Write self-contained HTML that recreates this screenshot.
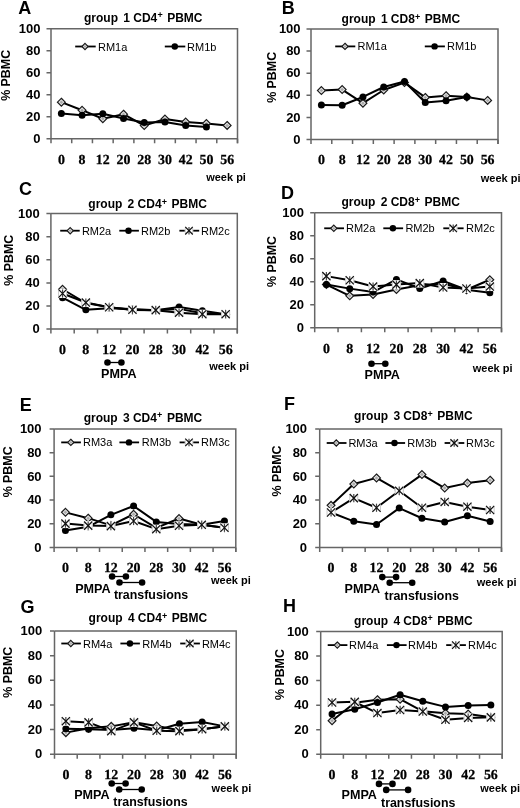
<!DOCTYPE html>
<html><head><meta charset="utf-8"><title>Figure</title>
<style>
html,body{margin:0;padding:0;background:#fff;width:520px;height:808px;overflow:hidden;}
svg{display:block;filter:blur(0.3px);}
</style></head>
<body>
<svg width="520" height="808" viewBox="0 0 520 808">
<rect width="520" height="808" fill="#fff"/>
<text x="18.2" y="14" font-size="18" font-weight="bold" font-family='"Liberation Sans", sans-serif'>A</text>
<text y="21.5" font-size="12" font-weight="bold" font-family='"Liberation Sans", sans-serif'><tspan x="84">group</tspan><tspan x="123.3">1</tspan><tspan x="133.25">CD4</tspan><tspan x="157.4" font-size="9" dy="-3.4">+</tspan><tspan x="167.2" dy="3.4">PBMC</tspan></text>
<path d="M51 28.8H237.5V143.3" fill="none" stroke="#666666" stroke-width="1.5"/>
<path d="M51 28.8V138.8H237.5M46.5 138.8H51M46.5 116.8H51M46.5 94.8H51M46.5 72.8H51M46.5 50.8H51M46.5 28.8H51M51 138.8V143.3M71.72 138.8V143.3M92.44 138.8V143.3M113.17 138.8V143.3M133.89 138.8V143.3M154.61 138.8V143.3M175.33 138.8V143.3M196.06 138.8V143.3M216.78 138.8V143.3M237.5 138.8V143.3" fill="none" stroke="#666666" stroke-width="1.5"/>
<text x="40.4" y="142.95" font-size="13" font-weight="bold" text-anchor="end" font-family='"Liberation Sans", sans-serif'>0</text>
<text x="40.4" y="120.95" font-size="13" font-weight="bold" text-anchor="end" font-family='"Liberation Sans", sans-serif'>20</text>
<text x="40.4" y="98.95" font-size="13" font-weight="bold" text-anchor="end" font-family='"Liberation Sans", sans-serif'>40</text>
<text x="40.4" y="76.95" font-size="13" font-weight="bold" text-anchor="end" font-family='"Liberation Sans", sans-serif'>60</text>
<text x="40.4" y="54.95" font-size="13" font-weight="bold" text-anchor="end" font-family='"Liberation Sans", sans-serif'>80</text>
<text x="40.4" y="32.95" font-size="13" font-weight="bold" text-anchor="end" font-family='"Liberation Sans", sans-serif'>100</text>
<text x="61.36" y="164" font-size="13.9" font-weight="bold" text-anchor="middle" text-rendering="geometricPrecision" stroke="#000" stroke-width="0.25" font-family='"Liberation Serif", serif'>0</text>
<text x="82.08" y="164" font-size="13.9" font-weight="bold" text-anchor="middle" text-rendering="geometricPrecision" stroke="#000" stroke-width="0.25" font-family='"Liberation Serif", serif'>8</text>
<text x="102.81" y="164" font-size="13.9" font-weight="bold" text-anchor="middle" text-rendering="geometricPrecision" stroke="#000" stroke-width="0.25" font-family='"Liberation Serif", serif'>12</text>
<text x="123.53" y="164" font-size="13.9" font-weight="bold" text-anchor="middle" text-rendering="geometricPrecision" stroke="#000" stroke-width="0.25" font-family='"Liberation Serif", serif'>20</text>
<text x="144.25" y="164" font-size="13.9" font-weight="bold" text-anchor="middle" text-rendering="geometricPrecision" stroke="#000" stroke-width="0.25" font-family='"Liberation Serif", serif'>28</text>
<text x="164.97" y="164" font-size="13.9" font-weight="bold" text-anchor="middle" text-rendering="geometricPrecision" stroke="#000" stroke-width="0.25" font-family='"Liberation Serif", serif'>30</text>
<text x="185.69" y="164" font-size="13.9" font-weight="bold" text-anchor="middle" text-rendering="geometricPrecision" stroke="#000" stroke-width="0.25" font-family='"Liberation Serif", serif'>42</text>
<text x="206.42" y="164" font-size="13.9" font-weight="bold" text-anchor="middle" text-rendering="geometricPrecision" stroke="#000" stroke-width="0.25" font-family='"Liberation Serif", serif'>50</text>
<text x="227.14" y="164" font-size="13.9" font-weight="bold" text-anchor="middle" text-rendering="geometricPrecision" stroke="#000" stroke-width="0.25" font-family='"Liberation Serif", serif'>56</text>
<text transform="translate(10.4 75.4) rotate(-90)" font-size="12.4" font-weight="bold" text-anchor="middle" font-family='"Liberation Sans", sans-serif'>% PBMC</text>
<text x="206.2" y="180.6" font-size="11" font-weight="bold" font-family='"Liberation Sans", sans-serif'>week pi</text>
<path d="M75.2 46.5H95.7" stroke="#000" stroke-width="1.8"/>
<path d="M85 43.38L88.12 46.5L85 49.62L81.88 46.5Z" fill="#e6e6e6" stroke="#1a1a1a" stroke-width="1.2"/><path d="M85 45.1L86.4 46.5L85 47.9L83.6 46.5Z" fill="#aaa"/>
<text x="98" y="50.5" font-size="11" font-family='"Liberation Sans", sans-serif'>RM1a</text>
<path d="M164.8 46.5H185.3" stroke="#000" stroke-width="1.8"/>
<circle cx="174.8" cy="46.5" r="3.22" fill="#000"/>
<text x="187.1" y="50.5" font-size="11" font-family='"Liberation Sans", sans-serif'>RM1b</text>
<path d="M61.36 102.17L82.08 110.2L102.81 118.78L123.53 114.16L144.25 125.6L164.97 119L185.69 121.97L206.42 123.51L227.14 125.38" fill="none" stroke="#000" stroke-width="2" stroke-linejoin="round"/>
<path d="M61.36 98.27L65.26 102.17L61.36 106.07L57.46 102.17Z" fill="#e6e6e6" stroke="#1a1a1a" stroke-width="1.2"/><path d="M61.36 100.42L63.12 102.17L61.36 103.93L59.61 102.17Z" fill="#aaa"/>
<path d="M82.08 106.3L85.98 110.2L82.08 114.1L78.18 110.2Z" fill="#e6e6e6" stroke="#1a1a1a" stroke-width="1.2"/><path d="M82.08 108.45L83.84 110.2L82.08 111.95L80.33 110.2Z" fill="#aaa"/>
<path d="M102.81 114.88L106.71 118.78L102.81 122.68L98.91 118.78Z" fill="#e6e6e6" stroke="#1a1a1a" stroke-width="1.2"/><path d="M102.81 117.03L104.56 118.78L102.81 120.53L101.05 118.78Z" fill="#aaa"/>
<path d="M123.53 110.26L127.43 114.16L123.53 118.06L119.63 114.16Z" fill="#e6e6e6" stroke="#1a1a1a" stroke-width="1.2"/><path d="M123.53 112.41L125.28 114.16L123.53 115.92L121.77 114.16Z" fill="#aaa"/>
<path d="M144.25 121.7L148.15 125.6L144.25 129.5L140.35 125.6Z" fill="#e6e6e6" stroke="#1a1a1a" stroke-width="1.2"/><path d="M144.25 123.85L146 125.6L144.25 127.36L142.5 125.6Z" fill="#aaa"/>
<path d="M164.97 115.1L168.87 119L164.97 122.9L161.07 119Z" fill="#e6e6e6" stroke="#1a1a1a" stroke-width="1.2"/><path d="M164.97 117.25L166.73 119L164.97 120.76L163.22 119Z" fill="#aaa"/>
<path d="M185.69 118.07L189.59 121.97L185.69 125.87L181.79 121.97Z" fill="#e6e6e6" stroke="#1a1a1a" stroke-width="1.2"/><path d="M185.69 120.22L187.45 121.97L185.69 123.73L183.94 121.97Z" fill="#aaa"/>
<path d="M206.42 119.61L210.32 123.51L206.42 127.41L202.52 123.51Z" fill="#e6e6e6" stroke="#1a1a1a" stroke-width="1.2"/><path d="M206.42 121.76L208.17 123.51L206.42 125.27L204.66 123.51Z" fill="#aaa"/>
<path d="M227.14 121.48L231.04 125.38L227.14 129.28L223.24 125.38Z" fill="#e6e6e6" stroke="#1a1a1a" stroke-width="1.2"/><path d="M227.14 123.63L228.89 125.38L227.14 127.14L225.38 125.38Z" fill="#aaa"/>
<path d="M61.36 113.61L82.08 115.15L102.81 113.72L123.53 118.45L144.25 122.52L164.97 121.97L185.69 125.6L206.42 126.92" fill="none" stroke="#000" stroke-width="2" stroke-linejoin="round"/>
<circle cx="61.36" cy="113.61" r="3.5" fill="#000"/>
<circle cx="82.08" cy="115.15" r="3.5" fill="#000"/>
<circle cx="102.81" cy="113.72" r="3.5" fill="#000"/>
<circle cx="123.53" cy="118.45" r="3.5" fill="#000"/>
<circle cx="144.25" cy="122.52" r="3.5" fill="#000"/>
<circle cx="164.97" cy="121.97" r="3.5" fill="#000"/>
<circle cx="185.69" cy="125.6" r="3.5" fill="#000"/>
<circle cx="206.42" cy="126.92" r="3.5" fill="#000"/>
<text x="281.8" y="13.8" font-size="18" font-weight="bold" font-family='"Liberation Sans", sans-serif'>B</text>
<text y="23.1" font-size="12" font-weight="bold" font-family='"Liberation Sans", sans-serif'><tspan x="341.6">group</tspan><tspan x="380.9">1</tspan><tspan x="390.85">CD8</tspan><tspan x="415" font-size="9" dy="-3.4">+</tspan><tspan x="424.8" dy="3.4">PBMC</tspan></text>
<path d="M311 29H498V144" fill="none" stroke="#666666" stroke-width="1.5"/>
<path d="M311 29V139.5H498M306.5 139.5H311M306.5 117.4H311M306.5 95.3H311M306.5 73.2H311M306.5 51.1H311M306.5 29H311M311 139.5V144M331.78 139.5V144M352.56 139.5V144M373.33 139.5V144M394.11 139.5V144M414.89 139.5V144M435.67 139.5V144M456.44 139.5V144M477.22 139.5V144M498 139.5V144" fill="none" stroke="#666666" stroke-width="1.5"/>
<text x="300.6" y="143.65" font-size="13" font-weight="bold" text-anchor="end" font-family='"Liberation Sans", sans-serif'>0</text>
<text x="300.6" y="121.55" font-size="13" font-weight="bold" text-anchor="end" font-family='"Liberation Sans", sans-serif'>20</text>
<text x="300.6" y="99.45" font-size="13" font-weight="bold" text-anchor="end" font-family='"Liberation Sans", sans-serif'>40</text>
<text x="300.6" y="77.35" font-size="13" font-weight="bold" text-anchor="end" font-family='"Liberation Sans", sans-serif'>60</text>
<text x="300.6" y="55.25" font-size="13" font-weight="bold" text-anchor="end" font-family='"Liberation Sans", sans-serif'>80</text>
<text x="300.6" y="33.15" font-size="13" font-weight="bold" text-anchor="end" font-family='"Liberation Sans", sans-serif'>100</text>
<text x="321.39" y="164.3" font-size="13.9" font-weight="bold" text-anchor="middle" text-rendering="geometricPrecision" stroke="#000" stroke-width="0.25" font-family='"Liberation Serif", serif'>0</text>
<text x="342.17" y="164.3" font-size="13.9" font-weight="bold" text-anchor="middle" text-rendering="geometricPrecision" stroke="#000" stroke-width="0.25" font-family='"Liberation Serif", serif'>8</text>
<text x="362.94" y="164.3" font-size="13.9" font-weight="bold" text-anchor="middle" text-rendering="geometricPrecision" stroke="#000" stroke-width="0.25" font-family='"Liberation Serif", serif'>12</text>
<text x="383.72" y="164.3" font-size="13.9" font-weight="bold" text-anchor="middle" text-rendering="geometricPrecision" stroke="#000" stroke-width="0.25" font-family='"Liberation Serif", serif'>20</text>
<text x="404.5" y="164.3" font-size="13.9" font-weight="bold" text-anchor="middle" text-rendering="geometricPrecision" stroke="#000" stroke-width="0.25" font-family='"Liberation Serif", serif'>28</text>
<text x="425.28" y="164.3" font-size="13.9" font-weight="bold" text-anchor="middle" text-rendering="geometricPrecision" stroke="#000" stroke-width="0.25" font-family='"Liberation Serif", serif'>30</text>
<text x="446.06" y="164.3" font-size="13.9" font-weight="bold" text-anchor="middle" text-rendering="geometricPrecision" stroke="#000" stroke-width="0.25" font-family='"Liberation Serif", serif'>42</text>
<text x="466.83" y="164.3" font-size="13.9" font-weight="bold" text-anchor="middle" text-rendering="geometricPrecision" stroke="#000" stroke-width="0.25" font-family='"Liberation Serif", serif'>50</text>
<text x="487.61" y="164.3" font-size="13.9" font-weight="bold" text-anchor="middle" text-rendering="geometricPrecision" stroke="#000" stroke-width="0.25" font-family='"Liberation Serif", serif'>56</text>
<text transform="translate(275.8 77.4) rotate(-90)" font-size="12.4" font-weight="bold" text-anchor="middle" font-family='"Liberation Sans", sans-serif'>% PBMC</text>
<text x="480.8" y="181.5" font-size="11" font-weight="bold" font-family='"Liberation Sans", sans-serif'>week pi</text>
<path d="M335.2 46.4H355.3" stroke="#000" stroke-width="1.8"/>
<path d="M345 43.28L348.12 46.4L345 49.52L341.88 46.4Z" fill="#e6e6e6" stroke="#1a1a1a" stroke-width="1.2"/><path d="M345 45L346.4 46.4L345 47.8L343.6 46.4Z" fill="#aaa"/>
<text x="357.5" y="50.4" font-size="11" font-family='"Liberation Sans", sans-serif'>RM1a</text>
<path d="M424.8 46.4H444.9" stroke="#000" stroke-width="1.8"/>
<circle cx="434.6" cy="46.4" r="3.22" fill="#000"/>
<text x="447.1" y="50.4" font-size="11" font-family='"Liberation Sans", sans-serif'>RM1b</text>
<path d="M321.39 90.55L342.17 89.55L362.94 103.15L383.72 90L404.5 82.59L425.28 97.4L446.06 95.63L466.83 96.96L487.61 100.38" fill="none" stroke="#000" stroke-width="2" stroke-linejoin="round"/>
<path d="M321.39 86.65L325.29 90.55L321.39 94.45L317.49 90.55Z" fill="#e6e6e6" stroke="#1a1a1a" stroke-width="1.2"/><path d="M321.39 88.79L323.14 90.55L321.39 92.3L319.63 90.55Z" fill="#aaa"/>
<path d="M342.17 85.65L346.07 89.55L342.17 93.45L338.27 89.55Z" fill="#e6e6e6" stroke="#1a1a1a" stroke-width="1.2"/><path d="M342.17 87.8L343.92 89.55L342.17 91.31L340.41 89.55Z" fill="#aaa"/>
<path d="M362.94 99.25L366.84 103.15L362.94 107.05L359.04 103.15Z" fill="#e6e6e6" stroke="#1a1a1a" stroke-width="1.2"/><path d="M362.94 101.39L364.7 103.15L362.94 104.9L361.19 103.15Z" fill="#aaa"/>
<path d="M383.72 86.1L387.62 90L383.72 93.9L379.82 90Z" fill="#e6e6e6" stroke="#1a1a1a" stroke-width="1.2"/><path d="M383.72 88.24L385.48 90L383.72 91.75L381.97 90Z" fill="#aaa"/>
<path d="M404.5 78.69L408.4 82.59L404.5 86.49L400.6 82.59Z" fill="#e6e6e6" stroke="#1a1a1a" stroke-width="1.2"/><path d="M404.5 80.84L406.25 82.59L404.5 84.35L402.75 82.59Z" fill="#aaa"/>
<path d="M425.28 93.5L429.18 97.4L425.28 101.3L421.38 97.4Z" fill="#e6e6e6" stroke="#1a1a1a" stroke-width="1.2"/><path d="M425.28 95.64L427.03 97.4L425.28 99.15L423.52 97.4Z" fill="#aaa"/>
<path d="M446.06 91.73L449.96 95.63L446.06 99.53L442.16 95.63Z" fill="#e6e6e6" stroke="#1a1a1a" stroke-width="1.2"/><path d="M446.06 93.88L447.81 95.63L446.06 97.39L444.3 95.63Z" fill="#aaa"/>
<path d="M466.83 93.06L470.73 96.96L466.83 100.86L462.93 96.96Z" fill="#e6e6e6" stroke="#1a1a1a" stroke-width="1.2"/><path d="M466.83 95.2L468.59 96.96L466.83 98.71L465.08 96.96Z" fill="#aaa"/>
<path d="M487.61 96.48L491.51 100.38L487.61 104.28L483.71 100.38Z" fill="#e6e6e6" stroke="#1a1a1a" stroke-width="1.2"/><path d="M487.61 98.63L489.37 100.38L487.61 102.14L485.86 100.38Z" fill="#aaa"/>
<path d="M321.39 105.02L342.17 105.25L362.94 96.96L383.72 87.01L404.5 81.49L425.28 102.59L446.06 100.83L466.83 96.96" fill="none" stroke="#000" stroke-width="2" stroke-linejoin="round"/>
<circle cx="321.39" cy="105.02" r="3.5" fill="#000"/>
<circle cx="342.17" cy="105.25" r="3.5" fill="#000"/>
<circle cx="362.94" cy="96.96" r="3.5" fill="#000"/>
<circle cx="383.72" cy="87.01" r="3.5" fill="#000"/>
<circle cx="404.5" cy="81.49" r="3.5" fill="#000"/>
<circle cx="425.28" cy="102.59" r="3.5" fill="#000"/>
<circle cx="446.06" cy="100.83" r="3.5" fill="#000"/>
<circle cx="466.83" cy="96.96" r="3.5" fill="#000"/>
<text x="19" y="194.8" font-size="18" font-weight="bold" font-family='"Liberation Sans", sans-serif'>C</text>
<text y="208.1" font-size="12" font-weight="bold" font-family='"Liberation Sans", sans-serif'><tspan x="88.3">group</tspan><tspan x="127.6">2</tspan><tspan x="137.55">CD4</tspan><tspan x="161.7" font-size="9" dy="-3.4">+</tspan><tspan x="171.5" dy="3.4">PBMC</tspan></text>
<path d="M50.9 213.6H237.3V333.6" fill="none" stroke="#666666" stroke-width="1.5"/>
<path d="M50.9 213.6V329.1H237.3M46.4 329.1H50.9M46.4 306H50.9M46.4 282.9H50.9M46.4 259.8H50.9M46.4 236.7H50.9M46.4 213.6H50.9M50.9 329.1V333.6M74.2 329.1V333.6M97.5 329.1V333.6M120.8 329.1V333.6M144.1 329.1V333.6M167.4 329.1V333.6M190.7 329.1V333.6M214 329.1V333.6M237.3 329.1V333.6" fill="none" stroke="#666666" stroke-width="1.5"/>
<text x="39.8" y="333.25" font-size="13" font-weight="bold" text-anchor="end" font-family='"Liberation Sans", sans-serif'>0</text>
<text x="39.8" y="310.15" font-size="13" font-weight="bold" text-anchor="end" font-family='"Liberation Sans", sans-serif'>20</text>
<text x="39.8" y="287.05" font-size="13" font-weight="bold" text-anchor="end" font-family='"Liberation Sans", sans-serif'>40</text>
<text x="39.8" y="263.95" font-size="13" font-weight="bold" text-anchor="end" font-family='"Liberation Sans", sans-serif'>60</text>
<text x="39.8" y="240.85" font-size="13" font-weight="bold" text-anchor="end" font-family='"Liberation Sans", sans-serif'>80</text>
<text x="39.8" y="217.75" font-size="13" font-weight="bold" text-anchor="end" font-family='"Liberation Sans", sans-serif'>100</text>
<text x="62.55" y="353.7" font-size="13.9" font-weight="bold" text-anchor="middle" text-rendering="geometricPrecision" stroke="#000" stroke-width="0.25" font-family='"Liberation Serif", serif'>0</text>
<text x="85.85" y="353.7" font-size="13.9" font-weight="bold" text-anchor="middle" text-rendering="geometricPrecision" stroke="#000" stroke-width="0.25" font-family='"Liberation Serif", serif'>8</text>
<text x="109.15" y="353.7" font-size="13.9" font-weight="bold" text-anchor="middle" text-rendering="geometricPrecision" stroke="#000" stroke-width="0.25" font-family='"Liberation Serif", serif'>12</text>
<text x="132.45" y="353.7" font-size="13.9" font-weight="bold" text-anchor="middle" text-rendering="geometricPrecision" stroke="#000" stroke-width="0.25" font-family='"Liberation Serif", serif'>20</text>
<text x="155.75" y="353.7" font-size="13.9" font-weight="bold" text-anchor="middle" text-rendering="geometricPrecision" stroke="#000" stroke-width="0.25" font-family='"Liberation Serif", serif'>28</text>
<text x="179.05" y="353.7" font-size="13.9" font-weight="bold" text-anchor="middle" text-rendering="geometricPrecision" stroke="#000" stroke-width="0.25" font-family='"Liberation Serif", serif'>30</text>
<text x="202.35" y="353.7" font-size="13.9" font-weight="bold" text-anchor="middle" text-rendering="geometricPrecision" stroke="#000" stroke-width="0.25" font-family='"Liberation Serif", serif'>42</text>
<text x="225.65" y="353.7" font-size="13.9" font-weight="bold" text-anchor="middle" text-rendering="geometricPrecision" stroke="#000" stroke-width="0.25" font-family='"Liberation Serif", serif'>56</text>
<text transform="translate(13 260.2) rotate(-90)" font-size="12.4" font-weight="bold" text-anchor="middle" font-family='"Liberation Sans", sans-serif'>% PBMC</text>
<text x="209.3" y="370" font-size="11" font-weight="bold" font-family='"Liberation Sans", sans-serif'>week pi</text>
<path d="M60.2 230.7H79.7" stroke="#000" stroke-width="1.8"/>
<path d="M70.2 227.58L73.32 230.7L70.2 233.82L67.08 230.7Z" fill="#e6e6e6" stroke="#1a1a1a" stroke-width="1.2"/><path d="M70.2 229.3L71.6 230.7L70.2 232.1L68.8 230.7Z" fill="#aaa"/>
<text x="81.9" y="234.7" font-size="11" font-family='"Liberation Sans", sans-serif'>RM2a</text>
<path d="M119.3 230.7H138.9" stroke="#000" stroke-width="1.8"/>
<circle cx="128.5" cy="230.7" r="3.22" fill="#000"/>
<text x="141" y="234.7" font-size="11" font-family='"Liberation Sans", sans-serif'>RM2b</text>
<path d="M179.4 230.7H199.2" stroke="#000" stroke-width="1.8"/>
<rect x="184.83" y="226.53" width="8.34" height="8.34" fill="#fff"/><path d="M185.33 227.93V233.47M192.67 227.93V233.47" stroke="#c8c8c8" stroke-width="1" fill="none"/><path d="M189 226.93V234.47" stroke="#444" stroke-width="1.2" fill="none"/><path d="M185.23 226.93L192.77 234.47M192.77 226.93L185.23 234.47" stroke="#111" stroke-width="1.25" fill="none"/>
<text x="201" y="234.7" font-size="11" font-family='"Liberation Sans", sans-serif'>RM2c</text>
<path d="M62.55 289.25L85.85 303L109.15 307.16L132.45 310.04L155.75 310.16L179.05 308.89L202.35 313.16L225.65 314.2" fill="none" stroke="#000" stroke-width="2" stroke-linejoin="round"/>
<path d="M62.55 285.35L66.45 289.25L62.55 293.15L58.65 289.25Z" fill="#e6e6e6" stroke="#1a1a1a" stroke-width="1.2"/><path d="M62.55 287.5L64.3 289.25L62.55 291.01L60.79 289.25Z" fill="#aaa"/>
<path d="M85.85 299.1L89.75 303L85.85 306.9L81.95 303Z" fill="#e6e6e6" stroke="#1a1a1a" stroke-width="1.2"/><path d="M85.85 301.24L87.6 303L85.85 304.75L84.09 303Z" fill="#aaa"/>
<path d="M109.15 303.26L113.05 307.16L109.15 311.06L105.25 307.16Z" fill="#e6e6e6" stroke="#1a1a1a" stroke-width="1.2"/><path d="M109.15 305.4L110.91 307.16L109.15 308.91L107.4 307.16Z" fill="#aaa"/>
<path d="M132.45 306.14L136.35 310.04L132.45 313.94L128.55 310.04Z" fill="#e6e6e6" stroke="#1a1a1a" stroke-width="1.2"/><path d="M132.45 308.29L134.2 310.04L132.45 311.8L130.69 310.04Z" fill="#aaa"/>
<path d="M155.75 306.26L159.65 310.16L155.75 314.06L151.85 310.16Z" fill="#e6e6e6" stroke="#1a1a1a" stroke-width="1.2"/><path d="M155.75 308.4L157.5 310.16L155.75 311.91L154 310.16Z" fill="#aaa"/>
<path d="M179.05 304.99L182.95 308.89L179.05 312.79L175.15 308.89Z" fill="#e6e6e6" stroke="#1a1a1a" stroke-width="1.2"/><path d="M179.05 307.13L180.81 308.89L179.05 310.64L177.3 308.89Z" fill="#aaa"/>
<path d="M202.35 309.26L206.25 313.16L202.35 317.06L198.45 313.16Z" fill="#e6e6e6" stroke="#1a1a1a" stroke-width="1.2"/><path d="M202.35 311.41L204.11 313.16L202.35 314.92L200.6 313.16Z" fill="#aaa"/>
<path d="M225.65 310.3L229.55 314.2L225.65 318.1L221.75 314.2Z" fill="#e6e6e6" stroke="#1a1a1a" stroke-width="1.2"/><path d="M225.65 312.45L227.41 314.2L225.65 315.96L223.9 314.2Z" fill="#aaa"/>
<path d="M62.55 297.68L85.85 309.81L109.15 308.31L132.45 309L155.75 310.16L179.05 306.92L202.35 310.85L225.65 314.2" fill="none" stroke="#000" stroke-width="2" stroke-linejoin="round"/>
<circle cx="62.55" cy="297.68" r="3.5" fill="#000"/>
<circle cx="85.85" cy="309.81" r="3.5" fill="#000"/>
<circle cx="109.15" cy="308.31" r="3.5" fill="#000"/>
<circle cx="132.45" cy="309" r="3.5" fill="#000"/>
<circle cx="155.75" cy="310.16" r="3.5" fill="#000"/>
<circle cx="179.05" cy="306.92" r="3.5" fill="#000"/>
<circle cx="202.35" cy="310.85" r="3.5" fill="#000"/>
<circle cx="225.65" cy="314.2" r="3.5" fill="#000"/>
<path d="M62.55 293.53L85.85 302.54L109.15 307.27L132.45 309.81L155.75 310.16L179.05 312.7L202.35 314.2L225.65 314.2" fill="none" stroke="#000" stroke-width="2" stroke-linejoin="round"/>
<rect x="58.05" y="289.03" width="9" height="9" fill="#fff"/><path d="M58.55 290.43V296.63M66.55 290.43V296.63" stroke="#c8c8c8" stroke-width="1" fill="none"/><path d="M62.55 289.43V297.63" stroke="#444" stroke-width="1.2" fill="none"/><path d="M58.45 289.43L66.65 297.63M66.65 289.43L58.45 297.63" stroke="#111" stroke-width="1.25" fill="none"/>
<rect x="81.35" y="298.04" width="9" height="9" fill="#fff"/><path d="M81.85 299.44V305.64M89.85 299.44V305.64" stroke="#c8c8c8" stroke-width="1" fill="none"/><path d="M85.85 298.44V306.64" stroke="#444" stroke-width="1.2" fill="none"/><path d="M81.75 298.44L89.95 306.64M89.95 298.44L81.75 306.64" stroke="#111" stroke-width="1.25" fill="none"/>
<rect x="104.65" y="302.77" width="9" height="9" fill="#fff"/><path d="M105.15 304.17V310.37M113.15 304.17V310.37" stroke="#c8c8c8" stroke-width="1" fill="none"/><path d="M109.15 303.17V311.37" stroke="#444" stroke-width="1.2" fill="none"/><path d="M105.05 303.17L113.25 311.37M113.25 303.17L105.05 311.37" stroke="#111" stroke-width="1.25" fill="none"/>
<rect x="127.95" y="305.31" width="9" height="9" fill="#fff"/><path d="M128.45 306.71V312.91M136.45 306.71V312.91" stroke="#c8c8c8" stroke-width="1" fill="none"/><path d="M132.45 305.71V313.91" stroke="#444" stroke-width="1.2" fill="none"/><path d="M128.35 305.71L136.55 313.91M136.55 305.71L128.35 313.91" stroke="#111" stroke-width="1.25" fill="none"/>
<rect x="151.25" y="305.66" width="9" height="9" fill="#fff"/><path d="M151.75 307.06V313.26M159.75 307.06V313.26" stroke="#c8c8c8" stroke-width="1" fill="none"/><path d="M155.75 306.06V314.26" stroke="#444" stroke-width="1.2" fill="none"/><path d="M151.65 306.06L159.85 314.26M159.85 306.06L151.65 314.26" stroke="#111" stroke-width="1.25" fill="none"/>
<rect x="174.55" y="308.2" width="9" height="9" fill="#fff"/><path d="M175.05 309.6V315.8M183.05 309.6V315.8" stroke="#c8c8c8" stroke-width="1" fill="none"/><path d="M179.05 308.6V316.8" stroke="#444" stroke-width="1.2" fill="none"/><path d="M174.95 308.6L183.15 316.8M183.15 308.6L174.95 316.8" stroke="#111" stroke-width="1.25" fill="none"/>
<rect x="197.85" y="309.7" width="9" height="9" fill="#fff"/><path d="M198.35 311.1V317.3M206.35 311.1V317.3" stroke="#c8c8c8" stroke-width="1" fill="none"/><path d="M202.35 310.1V318.3" stroke="#444" stroke-width="1.2" fill="none"/><path d="M198.25 310.1L206.45 318.3M206.45 310.1L198.25 318.3" stroke="#111" stroke-width="1.25" fill="none"/>
<rect x="221.15" y="309.7" width="9" height="9" fill="#fff"/><path d="M221.65 311.1V317.3M229.65 311.1V317.3" stroke="#c8c8c8" stroke-width="1" fill="none"/><path d="M225.65 310.1V318.3" stroke="#444" stroke-width="1.2" fill="none"/><path d="M221.55 310.1L229.75 318.3M229.75 310.1L221.55 318.3" stroke="#111" stroke-width="1.25" fill="none"/>
<path d="M107.5 362.5H121.4" stroke="#000" stroke-width="1.3"/>
<circle cx="107.5" cy="362.5" r="3.3"/><circle cx="121.4" cy="362.5" r="3.3"/>
<text x="101.1" y="377.9" font-size="12.6" font-weight="bold" font-family='"Liberation Sans", sans-serif'>PMPA</text>
<text x="281.1" y="198.8" font-size="18" font-weight="bold" font-family='"Liberation Sans", sans-serif'>D</text>
<text y="206.2" font-size="12" font-weight="bold" font-family='"Liberation Sans", sans-serif'><tspan x="341.4">group</tspan><tspan x="380.7">2</tspan><tspan x="390.65">CD8</tspan><tspan x="414.8" font-size="9" dy="-3.4">+</tspan><tspan x="424.6" dy="3.4">PBMC</tspan></text>
<path d="M314.7 212.8H501.5V332.2" fill="none" stroke="#666666" stroke-width="1.5"/>
<path d="M314.7 212.8V327.7H501.5M310.2 327.7H314.7M310.2 304.72H314.7M310.2 281.74H314.7M310.2 258.76H314.7M310.2 235.78H314.7M310.2 212.8H314.7M314.7 327.7V332.2M338.05 327.7V332.2M361.4 327.7V332.2M384.75 327.7V332.2M408.1 327.7V332.2M431.45 327.7V332.2M454.8 327.7V332.2M478.15 327.7V332.2M501.5 327.7V332.2" fill="none" stroke="#666666" stroke-width="1.5"/>
<text x="304" y="331.85" font-size="13" font-weight="bold" text-anchor="end" font-family='"Liberation Sans", sans-serif'>0</text>
<text x="304" y="308.87" font-size="13" font-weight="bold" text-anchor="end" font-family='"Liberation Sans", sans-serif'>20</text>
<text x="304" y="285.89" font-size="13" font-weight="bold" text-anchor="end" font-family='"Liberation Sans", sans-serif'>40</text>
<text x="304" y="262.91" font-size="13" font-weight="bold" text-anchor="end" font-family='"Liberation Sans", sans-serif'>60</text>
<text x="304" y="239.93" font-size="13" font-weight="bold" text-anchor="end" font-family='"Liberation Sans", sans-serif'>80</text>
<text x="304" y="216.95" font-size="13" font-weight="bold" text-anchor="end" font-family='"Liberation Sans", sans-serif'>100</text>
<text x="326.38" y="352.5" font-size="13.9" font-weight="bold" text-anchor="middle" text-rendering="geometricPrecision" stroke="#000" stroke-width="0.25" font-family='"Liberation Serif", serif'>0</text>
<text x="349.73" y="352.5" font-size="13.9" font-weight="bold" text-anchor="middle" text-rendering="geometricPrecision" stroke="#000" stroke-width="0.25" font-family='"Liberation Serif", serif'>8</text>
<text x="373.07" y="352.5" font-size="13.9" font-weight="bold" text-anchor="middle" text-rendering="geometricPrecision" stroke="#000" stroke-width="0.25" font-family='"Liberation Serif", serif'>12</text>
<text x="396.43" y="352.5" font-size="13.9" font-weight="bold" text-anchor="middle" text-rendering="geometricPrecision" stroke="#000" stroke-width="0.25" font-family='"Liberation Serif", serif'>20</text>
<text x="419.77" y="352.5" font-size="13.9" font-weight="bold" text-anchor="middle" text-rendering="geometricPrecision" stroke="#000" stroke-width="0.25" font-family='"Liberation Serif", serif'>28</text>
<text x="443.12" y="352.5" font-size="13.9" font-weight="bold" text-anchor="middle" text-rendering="geometricPrecision" stroke="#000" stroke-width="0.25" font-family='"Liberation Serif", serif'>30</text>
<text x="466.48" y="352.5" font-size="13.9" font-weight="bold" text-anchor="middle" text-rendering="geometricPrecision" stroke="#000" stroke-width="0.25" font-family='"Liberation Serif", serif'>42</text>
<text x="489.82" y="352.5" font-size="13.9" font-weight="bold" text-anchor="middle" text-rendering="geometricPrecision" stroke="#000" stroke-width="0.25" font-family='"Liberation Serif", serif'>56</text>
<text transform="translate(276.1 261.5) rotate(-90)" font-size="12.4" font-weight="bold" text-anchor="middle" font-family='"Liberation Sans", sans-serif'>% PBMC</text>
<text x="472.8" y="371.7" font-size="11" font-weight="bold" font-family='"Liberation Sans", sans-serif'>week pi</text>
<path d="M324.2 228.3H344" stroke="#000" stroke-width="1.8"/>
<path d="M333.8 225.18L336.92 228.3L333.8 231.42L330.68 228.3Z" fill="#e6e6e6" stroke="#1a1a1a" stroke-width="1.2"/><path d="M333.8 226.9L335.2 228.3L333.8 229.7L332.4 228.3Z" fill="#aaa"/>
<text x="346" y="232.3" font-size="11" font-family='"Liberation Sans", sans-serif'>RM2a</text>
<path d="M383.3 228.3H403.1" stroke="#000" stroke-width="1.8"/>
<circle cx="392.9" cy="228.3" r="3.22" fill="#000"/>
<text x="405.4" y="232.3" font-size="11" font-family='"Liberation Sans", sans-serif'>RM2b</text>
<path d="M443.3 228.3H463.6" stroke="#000" stroke-width="1.8"/>
<rect x="449.03" y="224.13" width="8.34" height="8.34" fill="#fff"/><path d="M449.53 225.53V231.07M456.87 225.53V231.07" stroke="#c8c8c8" stroke-width="1" fill="none"/><path d="M453.2 224.53V232.07" stroke="#444" stroke-width="1.2" fill="none"/><path d="M449.43 224.53L456.97 232.07M456.97 224.53L449.43 232.07" stroke="#111" stroke-width="1.25" fill="none"/>
<text x="466.1" y="232.3" font-size="11" font-family='"Liberation Sans", sans-serif'>RM2c</text>
<path d="M326.38 284.61L349.73 295.87L373.07 294.49L396.43 289.44L419.77 285.19L443.12 283.46L466.48 289.78L489.82 279.79" fill="none" stroke="#000" stroke-width="2" stroke-linejoin="round"/>
<path d="M326.38 280.71L330.27 284.61L326.38 288.51L322.48 284.61Z" fill="#e6e6e6" stroke="#1a1a1a" stroke-width="1.2"/><path d="M326.38 282.86L328.13 284.61L326.38 286.37L324.62 284.61Z" fill="#aaa"/>
<path d="M349.73 291.97L353.62 295.87L349.73 299.77L345.83 295.87Z" fill="#e6e6e6" stroke="#1a1a1a" stroke-width="1.2"/><path d="M349.73 294.12L351.48 295.87L349.73 297.63L347.97 295.87Z" fill="#aaa"/>
<path d="M373.07 290.59L376.97 294.49L373.07 298.39L369.18 294.49Z" fill="#e6e6e6" stroke="#1a1a1a" stroke-width="1.2"/><path d="M373.07 292.74L374.83 294.49L373.07 296.25L371.32 294.49Z" fill="#aaa"/>
<path d="M396.43 285.54L400.32 289.44L396.43 293.34L392.53 289.44Z" fill="#e6e6e6" stroke="#1a1a1a" stroke-width="1.2"/><path d="M396.43 287.68L398.18 289.44L396.43 291.19L394.67 289.44Z" fill="#aaa"/>
<path d="M419.77 281.29L423.67 285.19L419.77 289.09L415.88 285.19Z" fill="#e6e6e6" stroke="#1a1a1a" stroke-width="1.2"/><path d="M419.77 283.43L421.53 285.19L419.77 286.94L418.02 285.19Z" fill="#aaa"/>
<path d="M443.12 279.56L447.02 283.46L443.12 287.36L439.23 283.46Z" fill="#e6e6e6" stroke="#1a1a1a" stroke-width="1.2"/><path d="M443.12 281.71L444.88 283.46L443.12 285.22L441.37 283.46Z" fill="#aaa"/>
<path d="M466.48 285.88L470.38 289.78L466.48 293.68L462.58 289.78Z" fill="#e6e6e6" stroke="#1a1a1a" stroke-width="1.2"/><path d="M466.48 288.03L468.23 289.78L466.48 291.54L464.72 289.78Z" fill="#aaa"/>
<path d="M489.82 275.89L493.72 279.79L489.82 283.69L485.93 279.79Z" fill="#e6e6e6" stroke="#1a1a1a" stroke-width="1.2"/><path d="M489.82 278.03L491.58 279.79L489.82 281.54L488.07 279.79Z" fill="#aaa"/>
<path d="M326.38 284.61L349.73 288.63L373.07 292.08L396.43 279.44L419.77 288.52L443.12 280.94L466.48 289.78L489.82 292.66" fill="none" stroke="#000" stroke-width="2" stroke-linejoin="round"/>
<circle cx="326.38" cy="284.61" r="3.5" fill="#000"/>
<circle cx="349.73" cy="288.63" r="3.5" fill="#000"/>
<circle cx="373.07" cy="292.08" r="3.5" fill="#000"/>
<circle cx="396.43" cy="279.44" r="3.5" fill="#000"/>
<circle cx="419.77" cy="288.52" r="3.5" fill="#000"/>
<circle cx="443.12" cy="280.94" r="3.5" fill="#000"/>
<circle cx="466.48" cy="289.78" r="3.5" fill="#000"/>
<circle cx="489.82" cy="292.66" r="3.5" fill="#000"/>
<path d="M326.38 276.11L349.73 280.25L373.07 286.57L396.43 284.61L419.77 283.12L443.12 287.49L466.48 288.52L489.82 286.57" fill="none" stroke="#000" stroke-width="2" stroke-linejoin="round"/>
<rect x="321.88" y="271.61" width="9" height="9" fill="#fff"/><path d="M322.38 273.01V279.21M330.38 273.01V279.21" stroke="#c8c8c8" stroke-width="1" fill="none"/><path d="M326.38 272.01V280.21" stroke="#444" stroke-width="1.2" fill="none"/><path d="M322.27 272.01L330.48 280.21M330.48 272.01L322.27 280.21" stroke="#111" stroke-width="1.25" fill="none"/>
<rect x="345.23" y="275.75" width="9" height="9" fill="#fff"/><path d="M345.73 277.15V283.35M353.73 277.15V283.35" stroke="#c8c8c8" stroke-width="1" fill="none"/><path d="M349.73 276.15V284.35" stroke="#444" stroke-width="1.2" fill="none"/><path d="M345.62 276.15L353.83 284.35M353.83 276.15L345.62 284.35" stroke="#111" stroke-width="1.25" fill="none"/>
<rect x="368.57" y="282.07" width="9" height="9" fill="#fff"/><path d="M369.07 283.47V289.67M377.07 283.47V289.67" stroke="#c8c8c8" stroke-width="1" fill="none"/><path d="M373.07 282.47V290.67" stroke="#444" stroke-width="1.2" fill="none"/><path d="M368.97 282.47L377.18 290.67M377.18 282.47L368.97 290.67" stroke="#111" stroke-width="1.25" fill="none"/>
<rect x="391.93" y="280.11" width="9" height="9" fill="#fff"/><path d="M392.43 281.51V287.71M400.43 281.51V287.71" stroke="#c8c8c8" stroke-width="1" fill="none"/><path d="M396.43 280.51V288.71" stroke="#444" stroke-width="1.2" fill="none"/><path d="M392.32 280.51L400.53 288.71M400.53 280.51L392.32 288.71" stroke="#111" stroke-width="1.25" fill="none"/>
<rect x="415.27" y="278.62" width="9" height="9" fill="#fff"/><path d="M415.77 280.02V286.22M423.77 280.02V286.22" stroke="#c8c8c8" stroke-width="1" fill="none"/><path d="M419.77 279.02V287.22" stroke="#444" stroke-width="1.2" fill="none"/><path d="M415.67 279.02L423.88 287.22M423.88 279.02L415.67 287.22" stroke="#111" stroke-width="1.25" fill="none"/>
<rect x="438.62" y="282.99" width="9" height="9" fill="#fff"/><path d="M439.12 284.38V290.59M447.12 284.38V290.59" stroke="#c8c8c8" stroke-width="1" fill="none"/><path d="M443.12 283.38V291.59" stroke="#444" stroke-width="1.2" fill="none"/><path d="M439.02 283.38L447.23 291.59M447.23 283.38L439.02 291.59" stroke="#111" stroke-width="1.25" fill="none"/>
<rect x="461.98" y="284.02" width="9" height="9" fill="#fff"/><path d="M462.48 285.42V291.62M470.48 285.42V291.62" stroke="#c8c8c8" stroke-width="1" fill="none"/><path d="M466.48 284.42V292.62" stroke="#444" stroke-width="1.2" fill="none"/><path d="M462.38 284.42L470.58 292.62M470.58 284.42L462.38 292.62" stroke="#111" stroke-width="1.25" fill="none"/>
<rect x="485.32" y="282.07" width="9" height="9" fill="#fff"/><path d="M485.82 283.47V289.67M493.82 283.47V289.67" stroke="#c8c8c8" stroke-width="1" fill="none"/><path d="M489.82 282.47V290.67" stroke="#444" stroke-width="1.2" fill="none"/><path d="M485.72 282.47L493.93 290.67M493.93 282.47L485.72 290.67" stroke="#111" stroke-width="1.25" fill="none"/>
<path d="M371.5 363.7H385.3" stroke="#000" stroke-width="1.3"/>
<circle cx="371.5" cy="363.7" r="3.3"/><circle cx="385.3" cy="363.7" r="3.3"/>
<text x="364.5" y="379" font-size="12.6" font-weight="bold" font-family='"Liberation Sans", sans-serif'>PMPA</text>
<text x="19.8" y="410.8" font-size="18" font-weight="bold" font-family='"Liberation Sans", sans-serif'>E</text>
<text y="421.5" font-size="12" font-weight="bold" font-family='"Liberation Sans", sans-serif'><tspan x="83.7">group</tspan><tspan x="123">3</tspan><tspan x="132.95">CD4</tspan><tspan x="157.1" font-size="9" dy="-3.4">+</tspan><tspan x="166.9" dy="3.4">PBMC</tspan></text>
<path d="M54.1 429H235.8V551.9" fill="none" stroke="#666666" stroke-width="1.5"/>
<path d="M54.1 429V547.4H235.8M49.6 547.4H54.1M49.6 523.72H54.1M49.6 500.04H54.1M49.6 476.36H54.1M49.6 452.68H54.1M49.6 429H54.1M54.1 547.4V551.9M76.81 547.4V551.9M99.53 547.4V551.9M122.24 547.4V551.9M144.95 547.4V551.9M167.66 547.4V551.9M190.38 547.4V551.9M213.09 547.4V551.9M235.8 547.4V551.9" fill="none" stroke="#666666" stroke-width="1.5"/>
<text x="41.6" y="551.55" font-size="13" font-weight="bold" text-anchor="end" font-family='"Liberation Sans", sans-serif'>0</text>
<text x="41.6" y="527.87" font-size="13" font-weight="bold" text-anchor="end" font-family='"Liberation Sans", sans-serif'>20</text>
<text x="41.6" y="504.19" font-size="13" font-weight="bold" text-anchor="end" font-family='"Liberation Sans", sans-serif'>40</text>
<text x="41.6" y="480.51" font-size="13" font-weight="bold" text-anchor="end" font-family='"Liberation Sans", sans-serif'>60</text>
<text x="41.6" y="456.83" font-size="13" font-weight="bold" text-anchor="end" font-family='"Liberation Sans", sans-serif'>80</text>
<text x="41.6" y="433.15" font-size="13" font-weight="bold" text-anchor="end" font-family='"Liberation Sans", sans-serif'>100</text>
<text x="65.46" y="571.8" font-size="13.9" font-weight="bold" text-anchor="middle" text-rendering="geometricPrecision" stroke="#000" stroke-width="0.25" font-family='"Liberation Serif", serif'>0</text>
<text x="88.17" y="571.8" font-size="13.9" font-weight="bold" text-anchor="middle" text-rendering="geometricPrecision" stroke="#000" stroke-width="0.25" font-family='"Liberation Serif", serif'>8</text>
<text x="110.88" y="571.8" font-size="13.9" font-weight="bold" text-anchor="middle" text-rendering="geometricPrecision" stroke="#000" stroke-width="0.25" font-family='"Liberation Serif", serif'>12</text>
<text x="133.59" y="571.8" font-size="13.9" font-weight="bold" text-anchor="middle" text-rendering="geometricPrecision" stroke="#000" stroke-width="0.25" font-family='"Liberation Serif", serif'>20</text>
<text x="156.31" y="571.8" font-size="13.9" font-weight="bold" text-anchor="middle" text-rendering="geometricPrecision" stroke="#000" stroke-width="0.25" font-family='"Liberation Serif", serif'>28</text>
<text x="179.02" y="571.8" font-size="13.9" font-weight="bold" text-anchor="middle" text-rendering="geometricPrecision" stroke="#000" stroke-width="0.25" font-family='"Liberation Serif", serif'>30</text>
<text x="201.73" y="571.8" font-size="13.9" font-weight="bold" text-anchor="middle" text-rendering="geometricPrecision" stroke="#000" stroke-width="0.25" font-family='"Liberation Serif", serif'>42</text>
<text x="224.44" y="571.8" font-size="13.9" font-weight="bold" text-anchor="middle" text-rendering="geometricPrecision" stroke="#000" stroke-width="0.25" font-family='"Liberation Serif", serif'>56</text>
<text transform="translate(11.8 471.9) rotate(-90)" font-size="12.4" font-weight="bold" text-anchor="middle" font-family='"Liberation Sans", sans-serif'>% PBMC</text>
<text x="211" y="584" font-size="11" font-weight="bold" font-family='"Liberation Sans", sans-serif'>week pi</text>
<path d="M61.2 442.4H80.9" stroke="#000" stroke-width="1.8"/>
<path d="M70.8 439.28L73.92 442.4L70.8 445.52L67.68 442.4Z" fill="#e6e6e6" stroke="#1a1a1a" stroke-width="1.2"/><path d="M70.8 441L72.2 442.4L70.8 443.8L69.4 442.4Z" fill="#aaa"/>
<text x="83" y="446.4" font-size="11" font-family='"Liberation Sans", sans-serif'>RM3a</text>
<path d="M119.4 442.4H139.1" stroke="#000" stroke-width="1.8"/>
<circle cx="129" cy="442.4" r="3.22" fill="#000"/>
<text x="141.8" y="446.4" font-size="11" font-family='"Liberation Sans", sans-serif'>RM3b</text>
<path d="M179.6 442.4H199" stroke="#000" stroke-width="1.8"/>
<rect x="184.83" y="438.23" width="8.34" height="8.34" fill="#fff"/><path d="M185.33 439.63V445.17M192.67 439.63V445.17" stroke="#c8c8c8" stroke-width="1" fill="none"/><path d="M189 438.63V446.17" stroke="#444" stroke-width="1.2" fill="none"/><path d="M185.23 438.63L192.77 446.17M192.77 438.63L185.23 446.17" stroke="#111" stroke-width="1.25" fill="none"/>
<text x="201.1" y="446.4" font-size="11" font-family='"Liberation Sans", sans-serif'>RM3c</text>
<path d="M65.46 512.35L88.17 518.16L110.88 525.38L133.59 514.25L156.31 527.86L179.02 518.51L201.73 524.79L224.44 527.86" fill="none" stroke="#000" stroke-width="2" stroke-linejoin="round"/>
<path d="M65.46 508.45L69.36 512.35L65.46 516.25L61.56 512.35Z" fill="#e6e6e6" stroke="#1a1a1a" stroke-width="1.2"/><path d="M65.46 510.6L67.21 512.35L65.46 514.11L63.7 512.35Z" fill="#aaa"/>
<path d="M88.17 514.26L92.07 518.16L88.17 522.06L84.27 518.16Z" fill="#e6e6e6" stroke="#1a1a1a" stroke-width="1.2"/><path d="M88.17 516.4L89.92 518.16L88.17 519.91L86.41 518.16Z" fill="#aaa"/>
<path d="M110.88 521.48L114.78 525.38L110.88 529.28L106.98 525.38Z" fill="#e6e6e6" stroke="#1a1a1a" stroke-width="1.2"/><path d="M110.88 523.62L112.64 525.38L110.88 527.13L109.13 525.38Z" fill="#aaa"/>
<path d="M133.59 510.35L137.49 514.25L133.59 518.15L129.69 514.25Z" fill="#e6e6e6" stroke="#1a1a1a" stroke-width="1.2"/><path d="M133.59 512.49L135.35 514.25L133.59 516L131.84 514.25Z" fill="#aaa"/>
<path d="M156.31 523.96L160.21 527.86L156.31 531.76L152.41 527.86Z" fill="#e6e6e6" stroke="#1a1a1a" stroke-width="1.2"/><path d="M156.31 526.11L158.06 527.86L156.31 529.62L154.55 527.86Z" fill="#aaa"/>
<path d="M179.02 514.61L182.92 518.51L179.02 522.41L175.12 518.51Z" fill="#e6e6e6" stroke="#1a1a1a" stroke-width="1.2"/><path d="M179.02 516.76L180.77 518.51L179.02 520.27L177.26 518.51Z" fill="#aaa"/>
<path d="M201.73 520.89L205.63 524.79L201.73 528.69L197.83 524.79Z" fill="#e6e6e6" stroke="#1a1a1a" stroke-width="1.2"/><path d="M201.73 523.03L203.49 524.79L201.73 526.54L199.98 524.79Z" fill="#aaa"/>
<path d="M224.44 523.96L228.34 527.86L224.44 531.76L220.54 527.86Z" fill="#e6e6e6" stroke="#1a1a1a" stroke-width="1.2"/><path d="M224.44 526.11L226.2 527.86L224.44 529.62L222.69 527.86Z" fill="#aaa"/>
<path d="M65.46 530.59L88.17 526.8L110.88 514.84L133.59 505.96L156.31 521.94L179.02 523.96L201.73 524.79L224.44 521" fill="none" stroke="#000" stroke-width="2" stroke-linejoin="round"/>
<circle cx="65.46" cy="530.59" r="3.5" fill="#000"/>
<circle cx="88.17" cy="526.8" r="3.5" fill="#000"/>
<circle cx="110.88" cy="514.84" r="3.5" fill="#000"/>
<circle cx="133.59" cy="505.96" r="3.5" fill="#000"/>
<circle cx="156.31" cy="521.94" r="3.5" fill="#000"/>
<circle cx="179.02" cy="523.96" r="3.5" fill="#000"/>
<circle cx="201.73" cy="524.79" r="3.5" fill="#000"/>
<circle cx="224.44" cy="521" r="3.5" fill="#000"/>
<path d="M65.46 523.6L88.17 525.61L110.88 526.09L133.59 521L156.31 529.17L179.02 525.73L201.73 524.79L224.44 527.75" fill="none" stroke="#000" stroke-width="2" stroke-linejoin="round"/>
<rect x="60.96" y="519.1" width="9" height="9" fill="#fff"/><path d="M61.46 520.5V526.7M69.46 520.5V526.7" stroke="#c8c8c8" stroke-width="1" fill="none"/><path d="M65.46 519.5V527.7" stroke="#444" stroke-width="1.2" fill="none"/><path d="M61.36 519.5L69.56 527.7M69.56 519.5L61.36 527.7" stroke="#111" stroke-width="1.25" fill="none"/>
<rect x="83.67" y="521.11" width="9" height="9" fill="#fff"/><path d="M84.17 522.51V528.71M92.17 522.51V528.71" stroke="#c8c8c8" stroke-width="1" fill="none"/><path d="M88.17 521.51V529.71" stroke="#444" stroke-width="1.2" fill="none"/><path d="M84.07 521.51L92.27 529.71M92.27 521.51L84.07 529.71" stroke="#111" stroke-width="1.25" fill="none"/>
<rect x="106.38" y="521.59" width="9" height="9" fill="#fff"/><path d="M106.88 522.99V529.19M114.88 522.99V529.19" stroke="#c8c8c8" stroke-width="1" fill="none"/><path d="M110.88 521.99V530.19" stroke="#444" stroke-width="1.2" fill="none"/><path d="M106.78 521.99L114.98 530.19M114.98 521.99L106.78 530.19" stroke="#111" stroke-width="1.25" fill="none"/>
<rect x="129.09" y="516.5" width="9" height="9" fill="#fff"/><path d="M129.59 517.9V524.1M137.59 517.9V524.1" stroke="#c8c8c8" stroke-width="1" fill="none"/><path d="M133.59 516.9V525.1" stroke="#444" stroke-width="1.2" fill="none"/><path d="M129.49 516.9L137.69 525.1M137.69 516.9L129.49 525.1" stroke="#111" stroke-width="1.25" fill="none"/>
<rect x="151.81" y="524.67" width="9" height="9" fill="#fff"/><path d="M152.31 526.07V532.27M160.31 526.07V532.27" stroke="#c8c8c8" stroke-width="1" fill="none"/><path d="M156.31 525.07V533.27" stroke="#444" stroke-width="1.2" fill="none"/><path d="M152.21 525.07L160.41 533.27M160.41 525.07L152.21 533.27" stroke="#111" stroke-width="1.25" fill="none"/>
<rect x="174.52" y="521.23" width="9" height="9" fill="#fff"/><path d="M175.02 522.63V528.83M183.02 522.63V528.83" stroke="#c8c8c8" stroke-width="1" fill="none"/><path d="M179.02 521.63V529.83" stroke="#444" stroke-width="1.2" fill="none"/><path d="M174.92 521.63L183.12 529.83M183.12 521.63L174.92 529.83" stroke="#111" stroke-width="1.25" fill="none"/>
<rect x="197.23" y="520.29" width="9" height="9" fill="#fff"/><path d="M197.73 521.69V527.89M205.73 521.69V527.89" stroke="#c8c8c8" stroke-width="1" fill="none"/><path d="M201.73 520.69V528.89" stroke="#444" stroke-width="1.2" fill="none"/><path d="M197.63 520.69L205.83 528.89M205.83 520.69L197.63 528.89" stroke="#111" stroke-width="1.25" fill="none"/>
<rect x="219.94" y="523.25" width="9" height="9" fill="#fff"/><path d="M220.44 524.65V530.85M228.44 524.65V530.85" stroke="#c8c8c8" stroke-width="1" fill="none"/><path d="M224.44 523.65V531.85" stroke="#444" stroke-width="1.2" fill="none"/><path d="M220.34 523.65L228.54 531.85M228.54 523.65L220.34 531.85" stroke="#111" stroke-width="1.25" fill="none"/>
<path d="M112.1 576.5H125.9" stroke="#000" stroke-width="1.3"/>
<circle cx="112.1" cy="576.5" r="3.3"/><circle cx="125.9" cy="576.5" r="3.3"/>
<path d="M119.5 582.5H142.1" stroke="#000" stroke-width="1.3"/>
<circle cx="119.5" cy="582.5" r="3.3"/><circle cx="142.1" cy="582.5" r="3.3"/>
<text x="75.2" y="592.5" font-size="12.6" font-weight="bold" font-family='"Liberation Sans", sans-serif'>PMPA</text>
<text x="113.9" y="599.3" font-size="12.4" font-weight="bold" font-family='"Liberation Sans", sans-serif'>transfusions</text>
<text x="284" y="409.8" font-size="18" font-weight="bold" font-family='"Liberation Sans", sans-serif'>F</text>
<text y="420" font-size="12" font-weight="bold" font-family='"Liberation Sans", sans-serif'><tspan x="354.1">group</tspan><tspan x="393.4">3</tspan><tspan x="403.35">CD8</tspan><tspan x="427.5" font-size="9" dy="-3.4">+</tspan><tspan x="437.3" dy="3.4">PBMC</tspan></text>
<path d="M319.7 429H501.5V551.9" fill="none" stroke="#666666" stroke-width="1.5"/>
<path d="M319.7 429V547.4H501.5M315.2 547.4H319.7M315.2 523.72H319.7M315.2 500.04H319.7M315.2 476.36H319.7M315.2 452.68H319.7M315.2 429H319.7M319.7 547.4V551.9M342.43 547.4V551.9M365.15 547.4V551.9M387.88 547.4V551.9M410.6 547.4V551.9M433.32 547.4V551.9M456.05 547.4V551.9M478.77 547.4V551.9M501.5 547.4V551.9" fill="none" stroke="#666666" stroke-width="1.5"/>
<text x="307.1" y="551.55" font-size="13" font-weight="bold" text-anchor="end" font-family='"Liberation Sans", sans-serif'>0</text>
<text x="307.1" y="527.87" font-size="13" font-weight="bold" text-anchor="end" font-family='"Liberation Sans", sans-serif'>20</text>
<text x="307.1" y="504.19" font-size="13" font-weight="bold" text-anchor="end" font-family='"Liberation Sans", sans-serif'>40</text>
<text x="307.1" y="480.51" font-size="13" font-weight="bold" text-anchor="end" font-family='"Liberation Sans", sans-serif'>60</text>
<text x="307.1" y="456.83" font-size="13" font-weight="bold" text-anchor="end" font-family='"Liberation Sans", sans-serif'>80</text>
<text x="307.1" y="433.15" font-size="13" font-weight="bold" text-anchor="end" font-family='"Liberation Sans", sans-serif'>100</text>
<text x="331.06" y="572" font-size="13.9" font-weight="bold" text-anchor="middle" text-rendering="geometricPrecision" stroke="#000" stroke-width="0.25" font-family='"Liberation Serif", serif'>0</text>
<text x="353.79" y="572" font-size="13.9" font-weight="bold" text-anchor="middle" text-rendering="geometricPrecision" stroke="#000" stroke-width="0.25" font-family='"Liberation Serif", serif'>8</text>
<text x="376.51" y="572" font-size="13.9" font-weight="bold" text-anchor="middle" text-rendering="geometricPrecision" stroke="#000" stroke-width="0.25" font-family='"Liberation Serif", serif'>12</text>
<text x="399.24" y="572" font-size="13.9" font-weight="bold" text-anchor="middle" text-rendering="geometricPrecision" stroke="#000" stroke-width="0.25" font-family='"Liberation Serif", serif'>20</text>
<text x="421.96" y="572" font-size="13.9" font-weight="bold" text-anchor="middle" text-rendering="geometricPrecision" stroke="#000" stroke-width="0.25" font-family='"Liberation Serif", serif'>28</text>
<text x="444.69" y="572" font-size="13.9" font-weight="bold" text-anchor="middle" text-rendering="geometricPrecision" stroke="#000" stroke-width="0.25" font-family='"Liberation Serif", serif'>30</text>
<text x="467.41" y="572" font-size="13.9" font-weight="bold" text-anchor="middle" text-rendering="geometricPrecision" stroke="#000" stroke-width="0.25" font-family='"Liberation Serif", serif'>42</text>
<text x="490.14" y="572" font-size="13.9" font-weight="bold" text-anchor="middle" text-rendering="geometricPrecision" stroke="#000" stroke-width="0.25" font-family='"Liberation Serif", serif'>56</text>
<text transform="translate(281 471) rotate(-90)" font-size="12.4" font-weight="bold" text-anchor="middle" font-family='"Liberation Sans", sans-serif'>% PBMC</text>
<text x="476.8" y="585.8" font-size="11" font-weight="bold" font-family='"Liberation Sans", sans-serif'>week pi</text>
<path d="M326.7 443H346.5" stroke="#000" stroke-width="1.8"/>
<path d="M336.3 439.88L339.42 443L336.3 446.12L333.18 443Z" fill="#e6e6e6" stroke="#1a1a1a" stroke-width="1.2"/><path d="M336.3 441.6L337.7 443L336.3 444.4L334.9 443Z" fill="#aaa"/>
<text x="348.4" y="447" font-size="11" font-family='"Liberation Sans", sans-serif'>RM3a</text>
<path d="M385.4 443H405.1" stroke="#000" stroke-width="1.8"/>
<circle cx="394.5" cy="443" r="3.22" fill="#000"/>
<text x="407.3" y="447" font-size="11" font-family='"Liberation Sans", sans-serif'>RM3b</text>
<path d="M444.6 443H464.3" stroke="#000" stroke-width="1.8"/>
<rect x="450.03" y="438.83" width="8.34" height="8.34" fill="#fff"/><path d="M450.53 440.23V445.77M457.87 440.23V445.77" stroke="#c8c8c8" stroke-width="1" fill="none"/><path d="M454.2 439.23V446.77" stroke="#444" stroke-width="1.2" fill="none"/><path d="M450.43 439.23L457.97 446.77M457.97 439.23L450.43 446.77" stroke="#111" stroke-width="1.25" fill="none"/>
<text x="466.1" y="447" font-size="11" font-family='"Liberation Sans", sans-serif'>RM3c</text>
<path d="M331.06 505.37L353.79 484.06L376.51 477.9L399.24 490.8L421.96 474.58L444.69 488.08L467.41 483.11L490.14 480.15" fill="none" stroke="#000" stroke-width="2" stroke-linejoin="round"/>
<path d="M331.06 501.47L334.96 505.37L331.06 509.27L327.16 505.37Z" fill="#e6e6e6" stroke="#1a1a1a" stroke-width="1.2"/><path d="M331.06 503.61L332.82 505.37L331.06 507.12L329.31 505.37Z" fill="#aaa"/>
<path d="M353.79 480.16L357.69 484.06L353.79 487.96L349.89 484.06Z" fill="#e6e6e6" stroke="#1a1a1a" stroke-width="1.2"/><path d="M353.79 482.3L355.54 484.06L353.79 485.81L352.03 484.06Z" fill="#aaa"/>
<path d="M376.51 474L380.41 477.9L376.51 481.8L372.61 477.9Z" fill="#e6e6e6" stroke="#1a1a1a" stroke-width="1.2"/><path d="M376.51 476.14L378.27 477.9L376.51 479.65L374.76 477.9Z" fill="#aaa"/>
<path d="M399.24 486.9L403.14 490.8L399.24 494.7L395.34 490.8Z" fill="#e6e6e6" stroke="#1a1a1a" stroke-width="1.2"/><path d="M399.24 489.05L400.99 490.8L399.24 492.56L397.48 490.8Z" fill="#aaa"/>
<path d="M421.96 470.68L425.86 474.58L421.96 478.48L418.06 474.58Z" fill="#e6e6e6" stroke="#1a1a1a" stroke-width="1.2"/><path d="M421.96 472.83L423.72 474.58L421.96 476.34L420.21 474.58Z" fill="#aaa"/>
<path d="M444.69 484.18L448.59 488.08L444.69 491.98L440.79 488.08Z" fill="#e6e6e6" stroke="#1a1a1a" stroke-width="1.2"/><path d="M444.69 486.33L446.44 488.08L444.69 489.84L442.93 488.08Z" fill="#aaa"/>
<path d="M467.41 479.21L471.31 483.11L467.41 487.01L463.51 483.11Z" fill="#e6e6e6" stroke="#1a1a1a" stroke-width="1.2"/><path d="M467.41 481.35L469.17 483.11L467.41 484.86L465.66 483.11Z" fill="#aaa"/>
<path d="M490.14 476.25L494.04 480.15L490.14 484.05L486.24 480.15Z" fill="#e6e6e6" stroke="#1a1a1a" stroke-width="1.2"/><path d="M490.14 478.39L491.89 480.15L490.14 481.9L488.38 480.15Z" fill="#aaa"/>
<path d="M331.06 512.47L353.79 521.35L376.51 524.55L399.24 508.09L421.96 518.27L444.69 522.06L467.41 515.79L490.14 521.47" fill="none" stroke="#000" stroke-width="2" stroke-linejoin="round"/>
<circle cx="331.06" cy="512.47" r="3.5" fill="#000"/>
<circle cx="353.79" cy="521.35" r="3.5" fill="#000"/>
<circle cx="376.51" cy="524.55" r="3.5" fill="#000"/>
<circle cx="399.24" cy="508.09" r="3.5" fill="#000"/>
<circle cx="421.96" cy="518.27" r="3.5" fill="#000"/>
<circle cx="444.69" cy="522.06" r="3.5" fill="#000"/>
<circle cx="467.41" cy="515.79" r="3.5" fill="#000"/>
<circle cx="490.14" cy="521.47" r="3.5" fill="#000"/>
<path d="M331.06 512.47L353.79 498.15L376.51 507.74L399.24 490.8L421.96 507.74L444.69 501.93L467.41 506.67L490.14 509.99" fill="none" stroke="#000" stroke-width="2" stroke-linejoin="round"/>
<rect x="326.56" y="507.97" width="9" height="9" fill="#fff"/><path d="M327.06 509.37V515.57M335.06 509.37V515.57" stroke="#c8c8c8" stroke-width="1" fill="none"/><path d="M331.06 508.37V516.57" stroke="#444" stroke-width="1.2" fill="none"/><path d="M326.96 508.37L335.16 516.57M335.16 508.37L326.96 516.57" stroke="#111" stroke-width="1.25" fill="none"/>
<rect x="349.29" y="493.65" width="9" height="9" fill="#fff"/><path d="M349.79 495.05V501.25M357.79 495.05V501.25" stroke="#c8c8c8" stroke-width="1" fill="none"/><path d="M353.79 494.05V502.25" stroke="#444" stroke-width="1.2" fill="none"/><path d="M349.69 494.05L357.89 502.25M357.89 494.05L349.69 502.25" stroke="#111" stroke-width="1.25" fill="none"/>
<rect x="372.01" y="503.24" width="9" height="9" fill="#fff"/><path d="M372.51 504.64V510.84M380.51 504.64V510.84" stroke="#c8c8c8" stroke-width="1" fill="none"/><path d="M376.51 503.64V511.84" stroke="#444" stroke-width="1.2" fill="none"/><path d="M372.41 503.64L380.61 511.84M380.61 503.64L372.41 511.84" stroke="#111" stroke-width="1.25" fill="none"/>
<rect x="394.74" y="486.3" width="9" height="9" fill="#fff"/><path d="M395.24 487.7V493.9M403.24 487.7V493.9" stroke="#c8c8c8" stroke-width="1" fill="none"/><path d="M399.24 486.7V494.9" stroke="#444" stroke-width="1.2" fill="none"/><path d="M395.14 486.7L403.34 494.9M403.34 486.7L395.14 494.9" stroke="#111" stroke-width="1.25" fill="none"/>
<rect x="417.46" y="503.24" width="9" height="9" fill="#fff"/><path d="M417.96 504.64V510.84M425.96 504.64V510.84" stroke="#c8c8c8" stroke-width="1" fill="none"/><path d="M421.96 503.64V511.84" stroke="#444" stroke-width="1.2" fill="none"/><path d="M417.86 503.64L426.06 511.84M426.06 503.64L417.86 511.84" stroke="#111" stroke-width="1.25" fill="none"/>
<rect x="440.19" y="497.43" width="9" height="9" fill="#fff"/><path d="M440.69 498.83V505.03M448.69 498.83V505.03" stroke="#c8c8c8" stroke-width="1" fill="none"/><path d="M444.69 497.83V506.03" stroke="#444" stroke-width="1.2" fill="none"/><path d="M440.59 497.83L448.79 506.03M448.79 497.83L440.59 506.03" stroke="#111" stroke-width="1.25" fill="none"/>
<rect x="462.91" y="502.17" width="9" height="9" fill="#fff"/><path d="M463.41 503.57V509.77M471.41 503.57V509.77" stroke="#c8c8c8" stroke-width="1" fill="none"/><path d="M467.41 502.57V510.77" stroke="#444" stroke-width="1.2" fill="none"/><path d="M463.31 502.57L471.51 510.77M471.51 502.57L463.31 510.77" stroke="#111" stroke-width="1.25" fill="none"/>
<rect x="485.64" y="505.49" width="9" height="9" fill="#fff"/><path d="M486.14 506.89V513.09M494.14 506.89V513.09" stroke="#c8c8c8" stroke-width="1" fill="none"/><path d="M490.14 505.89V514.09" stroke="#444" stroke-width="1.2" fill="none"/><path d="M486.04 505.89L494.24 514.09M494.24 505.89L486.04 514.09" stroke="#111" stroke-width="1.25" fill="none"/>
<path d="M382.3 577.1H396.1" stroke="#000" stroke-width="1.3"/>
<circle cx="382.3" cy="577.1" r="3.3"/><circle cx="396.1" cy="577.1" r="3.3"/>
<path d="M389.7 582.7H412.2" stroke="#000" stroke-width="1.3"/>
<circle cx="389.7" cy="582.7" r="3.3"/><circle cx="412.2" cy="582.7" r="3.3"/>
<text x="344.6" y="592.5" font-size="12.6" font-weight="bold" font-family='"Liberation Sans", sans-serif'>PMPA</text>
<text x="384.5" y="599.5" font-size="12.4" font-weight="bold" font-family='"Liberation Sans", sans-serif'>transfusions</text>
<text x="20.5" y="612.5" font-size="18" font-weight="bold" font-family='"Liberation Sans", sans-serif'>G</text>
<text y="621.9" font-size="12" font-weight="bold" font-family='"Liberation Sans", sans-serif'><tspan x="88.6">group</tspan><tspan x="127.9">4</tspan><tspan x="137.85">CD4</tspan><tspan x="162" font-size="9" dy="-3.4">+</tspan><tspan x="171.8" dy="3.4">PBMC</tspan></text>
<path d="M54.5 631H236.2V758.7" fill="none" stroke="#666666" stroke-width="1.5"/>
<path d="M54.5 631V754.2H236.2M50 754.2H54.5M50 729.56H54.5M50 704.92H54.5M50 680.28H54.5M50 655.64H54.5M50 631H54.5M54.5 754.2V758.7M77.21 754.2V758.7M99.92 754.2V758.7M122.64 754.2V758.7M145.35 754.2V758.7M168.06 754.2V758.7M190.77 754.2V758.7M213.49 754.2V758.7M236.2 754.2V758.7" fill="none" stroke="#666666" stroke-width="1.5"/>
<text x="42.3" y="758.35" font-size="13" font-weight="bold" text-anchor="end" font-family='"Liberation Sans", sans-serif'>0</text>
<text x="42.3" y="733.71" font-size="13" font-weight="bold" text-anchor="end" font-family='"Liberation Sans", sans-serif'>20</text>
<text x="42.3" y="709.07" font-size="13" font-weight="bold" text-anchor="end" font-family='"Liberation Sans", sans-serif'>40</text>
<text x="42.3" y="684.43" font-size="13" font-weight="bold" text-anchor="end" font-family='"Liberation Sans", sans-serif'>60</text>
<text x="42.3" y="659.79" font-size="13" font-weight="bold" text-anchor="end" font-family='"Liberation Sans", sans-serif'>80</text>
<text x="42.3" y="635.15" font-size="13" font-weight="bold" text-anchor="end" font-family='"Liberation Sans", sans-serif'>100</text>
<text x="65.86" y="778.5" font-size="13.9" font-weight="bold" text-anchor="middle" text-rendering="geometricPrecision" stroke="#000" stroke-width="0.25" font-family='"Liberation Serif", serif'>0</text>
<text x="88.57" y="778.5" font-size="13.9" font-weight="bold" text-anchor="middle" text-rendering="geometricPrecision" stroke="#000" stroke-width="0.25" font-family='"Liberation Serif", serif'>8</text>
<text x="111.28" y="778.5" font-size="13.9" font-weight="bold" text-anchor="middle" text-rendering="geometricPrecision" stroke="#000" stroke-width="0.25" font-family='"Liberation Serif", serif'>12</text>
<text x="133.99" y="778.5" font-size="13.9" font-weight="bold" text-anchor="middle" text-rendering="geometricPrecision" stroke="#000" stroke-width="0.25" font-family='"Liberation Serif", serif'>20</text>
<text x="156.71" y="778.5" font-size="13.9" font-weight="bold" text-anchor="middle" text-rendering="geometricPrecision" stroke="#000" stroke-width="0.25" font-family='"Liberation Serif", serif'>28</text>
<text x="179.42" y="778.5" font-size="13.9" font-weight="bold" text-anchor="middle" text-rendering="geometricPrecision" stroke="#000" stroke-width="0.25" font-family='"Liberation Serif", serif'>30</text>
<text x="202.13" y="778.5" font-size="13.9" font-weight="bold" text-anchor="middle" text-rendering="geometricPrecision" stroke="#000" stroke-width="0.25" font-family='"Liberation Serif", serif'>42</text>
<text x="224.84" y="778.5" font-size="13.9" font-weight="bold" text-anchor="middle" text-rendering="geometricPrecision" stroke="#000" stroke-width="0.25" font-family='"Liberation Serif", serif'>56</text>
<text transform="translate(12.1 672.2) rotate(-90)" font-size="12.4" font-weight="bold" text-anchor="middle" font-family='"Liberation Sans", sans-serif'>% PBMC</text>
<text x="211.6" y="791.7" font-size="11" font-weight="bold" font-family='"Liberation Sans", sans-serif'>week pi</text>
<path d="M61.3 643.5H80.9" stroke="#000" stroke-width="1.8"/>
<path d="M70.8 640.38L73.92 643.5L70.8 646.62L67.68 643.5Z" fill="#e6e6e6" stroke="#1a1a1a" stroke-width="1.2"/><path d="M70.8 642.1L72.2 643.5L70.8 644.9L69.4 643.5Z" fill="#aaa"/>
<text x="83" y="647.5" font-size="11" font-family='"Liberation Sans", sans-serif'>RM4a</text>
<path d="M120.4 643.5H139.9" stroke="#000" stroke-width="1.8"/>
<circle cx="129.9" cy="643.5" r="3.22" fill="#000"/>
<text x="142.3" y="647.5" font-size="11" font-family='"Liberation Sans", sans-serif'>RM4b</text>
<path d="M180.2 643.5H199.9" stroke="#000" stroke-width="1.8"/>
<rect x="185.63" y="639.33" width="8.34" height="8.34" fill="#fff"/><path d="M186.13 640.73V646.27M193.47 640.73V646.27" stroke="#c8c8c8" stroke-width="1" fill="none"/><path d="M189.8 639.73V647.27" stroke="#444" stroke-width="1.2" fill="none"/><path d="M186.03 639.73L193.57 647.27M193.57 639.73L186.03 647.27" stroke="#111" stroke-width="1.25" fill="none"/>
<text x="201.9" y="647.5" font-size="11" font-family='"Liberation Sans", sans-serif'>RM4c</text>
<path d="M65.86 732.64L88.57 728.33L111.28 726.36L133.99 722.17L156.71 725.99L179.42 730.18L202.13 729.19L224.84 726.36" fill="none" stroke="#000" stroke-width="2" stroke-linejoin="round"/>
<path d="M65.86 728.74L69.76 732.64L65.86 736.54L61.96 732.64Z" fill="#e6e6e6" stroke="#1a1a1a" stroke-width="1.2"/><path d="M65.86 730.88L67.61 732.64L65.86 734.39L64.1 732.64Z" fill="#aaa"/>
<path d="M88.57 724.43L92.47 728.33L88.57 732.23L84.67 728.33Z" fill="#e6e6e6" stroke="#1a1a1a" stroke-width="1.2"/><path d="M88.57 726.57L90.32 728.33L88.57 730.08L86.81 728.33Z" fill="#aaa"/>
<path d="M111.28 722.46L115.18 726.36L111.28 730.26L107.38 726.36Z" fill="#e6e6e6" stroke="#1a1a1a" stroke-width="1.2"/><path d="M111.28 724.6L113.04 726.36L111.28 728.11L109.53 726.36Z" fill="#aaa"/>
<path d="M133.99 718.27L137.89 722.17L133.99 726.07L130.09 722.17Z" fill="#e6e6e6" stroke="#1a1a1a" stroke-width="1.2"/><path d="M133.99 720.41L135.75 722.17L133.99 723.92L132.24 722.17Z" fill="#aaa"/>
<path d="M156.71 722.09L160.61 725.99L156.71 729.89L152.81 725.99Z" fill="#e6e6e6" stroke="#1a1a1a" stroke-width="1.2"/><path d="M156.71 724.23L158.46 725.99L156.71 727.74L154.95 725.99Z" fill="#aaa"/>
<path d="M179.42 726.28L183.32 730.18L179.42 734.08L175.52 730.18Z" fill="#e6e6e6" stroke="#1a1a1a" stroke-width="1.2"/><path d="M179.42 728.42L181.17 730.18L179.42 731.93L177.66 730.18Z" fill="#aaa"/>
<path d="M202.13 725.29L206.03 729.19L202.13 733.09L198.23 729.19Z" fill="#e6e6e6" stroke="#1a1a1a" stroke-width="1.2"/><path d="M202.13 727.44L203.89 729.19L202.13 730.95L200.38 729.19Z" fill="#aaa"/>
<path d="M224.84 722.46L228.74 726.36L224.84 730.26L220.94 726.36Z" fill="#e6e6e6" stroke="#1a1a1a" stroke-width="1.2"/><path d="M224.84 724.6L226.6 726.36L224.84 728.11L223.09 726.36Z" fill="#aaa"/>
<path d="M65.86 728.82L88.57 729.19L111.28 730.05L133.99 728.33L156.71 730.18L179.42 723.77L202.13 721.92L224.84 726.36" fill="none" stroke="#000" stroke-width="2" stroke-linejoin="round"/>
<circle cx="65.86" cy="728.82" r="3.5" fill="#000"/>
<circle cx="88.57" cy="729.19" r="3.5" fill="#000"/>
<circle cx="111.28" cy="730.05" r="3.5" fill="#000"/>
<circle cx="133.99" cy="728.33" r="3.5" fill="#000"/>
<circle cx="156.71" cy="730.18" r="3.5" fill="#000"/>
<circle cx="179.42" cy="723.77" r="3.5" fill="#000"/>
<circle cx="202.13" cy="721.92" r="3.5" fill="#000"/>
<circle cx="224.84" cy="726.36" r="3.5" fill="#000"/>
<path d="M65.86 721.18L88.57 722.41L111.28 731.16L133.99 722.41L156.71 730.79L179.42 731.16L202.13 729.19L224.84 726.36" fill="none" stroke="#000" stroke-width="2" stroke-linejoin="round"/>
<rect x="61.36" y="716.68" width="9" height="9" fill="#fff"/><path d="M61.86 718.08V724.28M69.86 718.08V724.28" stroke="#c8c8c8" stroke-width="1" fill="none"/><path d="M65.86 717.08V725.28" stroke="#444" stroke-width="1.2" fill="none"/><path d="M61.76 717.08L69.96 725.28M69.96 717.08L61.76 725.28" stroke="#111" stroke-width="1.25" fill="none"/>
<rect x="84.07" y="717.91" width="9" height="9" fill="#fff"/><path d="M84.57 719.31V725.51M92.57 719.31V725.51" stroke="#c8c8c8" stroke-width="1" fill="none"/><path d="M88.57 718.31V726.51" stroke="#444" stroke-width="1.2" fill="none"/><path d="M84.47 718.31L92.67 726.51M92.67 718.31L84.47 726.51" stroke="#111" stroke-width="1.25" fill="none"/>
<rect x="106.78" y="726.66" width="9" height="9" fill="#fff"/><path d="M107.28 728.06V734.26M115.28 728.06V734.26" stroke="#c8c8c8" stroke-width="1" fill="none"/><path d="M111.28 727.06V735.26" stroke="#444" stroke-width="1.2" fill="none"/><path d="M107.18 727.06L115.38 735.26M115.38 727.06L107.18 735.26" stroke="#111" stroke-width="1.25" fill="none"/>
<rect x="129.49" y="717.91" width="9" height="9" fill="#fff"/><path d="M129.99 719.31V725.51M137.99 719.31V725.51" stroke="#c8c8c8" stroke-width="1" fill="none"/><path d="M133.99 718.31V726.51" stroke="#444" stroke-width="1.2" fill="none"/><path d="M129.89 718.31L138.09 726.51M138.09 718.31L129.89 726.51" stroke="#111" stroke-width="1.25" fill="none"/>
<rect x="152.21" y="726.29" width="9" height="9" fill="#fff"/><path d="M152.71 727.69V733.89M160.71 727.69V733.89" stroke="#c8c8c8" stroke-width="1" fill="none"/><path d="M156.71 726.69V734.89" stroke="#444" stroke-width="1.2" fill="none"/><path d="M152.61 726.69L160.81 734.89M160.81 726.69L152.61 734.89" stroke="#111" stroke-width="1.25" fill="none"/>
<rect x="174.92" y="726.66" width="9" height="9" fill="#fff"/><path d="M175.42 728.06V734.26M183.42 728.06V734.26" stroke="#c8c8c8" stroke-width="1" fill="none"/><path d="M179.42 727.06V735.26" stroke="#444" stroke-width="1.2" fill="none"/><path d="M175.32 727.06L183.52 735.26M183.52 727.06L175.32 735.26" stroke="#111" stroke-width="1.25" fill="none"/>
<rect x="197.63" y="724.69" width="9" height="9" fill="#fff"/><path d="M198.13 726.09V732.29M206.13 726.09V732.29" stroke="#c8c8c8" stroke-width="1" fill="none"/><path d="M202.13 725.09V733.29" stroke="#444" stroke-width="1.2" fill="none"/><path d="M198.03 725.09L206.23 733.29M206.23 725.09L198.03 733.29" stroke="#111" stroke-width="1.25" fill="none"/>
<rect x="220.34" y="721.86" width="9" height="9" fill="#fff"/><path d="M220.84 723.26V729.46M228.84 723.26V729.46" stroke="#c8c8c8" stroke-width="1" fill="none"/><path d="M224.84 722.26V730.46" stroke="#444" stroke-width="1.2" fill="none"/><path d="M220.74 722.26L228.94 730.46M228.94 722.26L220.74 730.46" stroke="#111" stroke-width="1.25" fill="none"/>
<path d="M111.7 783.5H125.6" stroke="#000" stroke-width="1.3"/>
<circle cx="111.7" cy="783.5" r="3.3"/><circle cx="125.6" cy="783.5" r="3.3"/>
<path d="M119.2 789.5H141.7" stroke="#000" stroke-width="1.3"/>
<circle cx="119.2" cy="789.5" r="3.3"/><circle cx="141.7" cy="789.5" r="3.3"/>
<text x="74.2" y="799" font-size="12.6" font-weight="bold" font-family='"Liberation Sans", sans-serif'>PMPA</text>
<text x="113.3" y="806.3" font-size="12.4" font-weight="bold" font-family='"Liberation Sans", sans-serif'>transfusions</text>
<text x="283.1" y="611.5" font-size="18" font-weight="bold" font-family='"Liberation Sans", sans-serif'>H</text>
<text y="624.6" font-size="12" font-weight="bold" font-family='"Liberation Sans", sans-serif'><tspan x="354.1">group</tspan><tspan x="393.4">4</tspan><tspan x="403.35">CD8</tspan><tspan x="427.5" font-size="9" dy="-3.4">+</tspan><tspan x="437.3" dy="3.4">PBMC</tspan></text>
<path d="M320.7 631.5H502.2V758.8" fill="none" stroke="#666666" stroke-width="1.5"/>
<path d="M320.7 631.5V754.3H502.2M316.2 754.3H320.7M316.2 729.74H320.7M316.2 705.18H320.7M316.2 680.62H320.7M316.2 656.06H320.7M316.2 631.5H320.7M320.7 754.3V758.8M343.39 754.3V758.8M366.07 754.3V758.8M388.76 754.3V758.8M411.45 754.3V758.8M434.14 754.3V758.8M456.82 754.3V758.8M479.51 754.3V758.8M502.2 754.3V758.8" fill="none" stroke="#666666" stroke-width="1.5"/>
<text x="308.8" y="758.45" font-size="13" font-weight="bold" text-anchor="end" font-family='"Liberation Sans", sans-serif'>0</text>
<text x="308.8" y="733.89" font-size="13" font-weight="bold" text-anchor="end" font-family='"Liberation Sans", sans-serif'>20</text>
<text x="308.8" y="709.33" font-size="13" font-weight="bold" text-anchor="end" font-family='"Liberation Sans", sans-serif'>40</text>
<text x="308.8" y="684.77" font-size="13" font-weight="bold" text-anchor="end" font-family='"Liberation Sans", sans-serif'>60</text>
<text x="308.8" y="660.21" font-size="13" font-weight="bold" text-anchor="end" font-family='"Liberation Sans", sans-serif'>80</text>
<text x="308.8" y="635.65" font-size="13" font-weight="bold" text-anchor="end" font-family='"Liberation Sans", sans-serif'>100</text>
<text x="332.04" y="779" font-size="13.9" font-weight="bold" text-anchor="middle" text-rendering="geometricPrecision" stroke="#000" stroke-width="0.25" font-family='"Liberation Serif", serif'>0</text>
<text x="354.73" y="779" font-size="13.9" font-weight="bold" text-anchor="middle" text-rendering="geometricPrecision" stroke="#000" stroke-width="0.25" font-family='"Liberation Serif", serif'>8</text>
<text x="377.42" y="779" font-size="13.9" font-weight="bold" text-anchor="middle" text-rendering="geometricPrecision" stroke="#000" stroke-width="0.25" font-family='"Liberation Serif", serif'>12</text>
<text x="400.11" y="779" font-size="13.9" font-weight="bold" text-anchor="middle" text-rendering="geometricPrecision" stroke="#000" stroke-width="0.25" font-family='"Liberation Serif", serif'>20</text>
<text x="422.79" y="779" font-size="13.9" font-weight="bold" text-anchor="middle" text-rendering="geometricPrecision" stroke="#000" stroke-width="0.25" font-family='"Liberation Serif", serif'>28</text>
<text x="445.48" y="779" font-size="13.9" font-weight="bold" text-anchor="middle" text-rendering="geometricPrecision" stroke="#000" stroke-width="0.25" font-family='"Liberation Serif", serif'>30</text>
<text x="468.17" y="779" font-size="13.9" font-weight="bold" text-anchor="middle" text-rendering="geometricPrecision" stroke="#000" stroke-width="0.25" font-family='"Liberation Serif", serif'>42</text>
<text x="490.86" y="779" font-size="13.9" font-weight="bold" text-anchor="middle" text-rendering="geometricPrecision" stroke="#000" stroke-width="0.25" font-family='"Liberation Serif", serif'>56</text>
<text transform="translate(283.5 674.6) rotate(-90)" font-size="12.4" font-weight="bold" text-anchor="middle" font-family='"Liberation Sans", sans-serif'>% PBMC</text>
<text x="480.3" y="791.7" font-size="11" font-weight="bold" font-family='"Liberation Sans", sans-serif'>week pi</text>
<path d="M327.7 645.1H347.4" stroke="#000" stroke-width="1.8"/>
<path d="M337.3 641.98L340.42 645.1L337.3 648.22L334.18 645.1Z" fill="#e6e6e6" stroke="#1a1a1a" stroke-width="1.2"/><path d="M337.3 643.7L338.7 645.1L337.3 646.5L335.9 645.1Z" fill="#aaa"/>
<text x="349" y="649.1" font-size="11" font-family='"Liberation Sans", sans-serif'>RM4a</text>
<path d="M386.9 645.1H406.6" stroke="#000" stroke-width="1.8"/>
<circle cx="396.5" cy="645.1" r="3.22" fill="#000"/>
<text x="408" y="649.1" font-size="11" font-family='"Liberation Sans", sans-serif'>RM4b</text>
<path d="M446.2 645.1H465.9" stroke="#000" stroke-width="1.8"/>
<rect x="451.63" y="640.93" width="8.34" height="8.34" fill="#fff"/><path d="M452.13 642.33V647.87M459.47 642.33V647.87" stroke="#c8c8c8" stroke-width="1" fill="none"/><path d="M455.8 641.33V648.87" stroke="#444" stroke-width="1.2" fill="none"/><path d="M452.03 641.33L459.57 648.87M459.57 641.33L452.03 648.87" stroke="#111" stroke-width="1.25" fill="none"/>
<text x="468" y="649.1" font-size="11" font-family='"Liberation Sans", sans-serif'>RM4c</text>
<path d="M332.04 720.78L354.73 702.72L377.42 699.65L400.11 699.16L422.79 711.32L445.48 713.16L468.17 714.02L490.86 717.34" fill="none" stroke="#000" stroke-width="2" stroke-linejoin="round"/>
<path d="M332.04 716.88L335.94 720.78L332.04 724.68L328.14 720.78Z" fill="#e6e6e6" stroke="#1a1a1a" stroke-width="1.2"/><path d="M332.04 719.02L333.8 720.78L332.04 722.53L330.29 720.78Z" fill="#aaa"/>
<path d="M354.73 698.82L358.63 702.72L354.73 706.62L350.83 702.72Z" fill="#e6e6e6" stroke="#1a1a1a" stroke-width="1.2"/><path d="M354.73 700.97L356.49 702.72L354.73 704.48L352.98 702.72Z" fill="#aaa"/>
<path d="M377.42 695.75L381.32 699.65L377.42 703.55L373.52 699.65Z" fill="#e6e6e6" stroke="#1a1a1a" stroke-width="1.2"/><path d="M377.42 697.9L379.17 699.65L377.42 701.41L375.66 699.65Z" fill="#aaa"/>
<path d="M400.11 695.26L404.01 699.16L400.11 703.06L396.21 699.16Z" fill="#e6e6e6" stroke="#1a1a1a" stroke-width="1.2"/><path d="M400.11 697.41L401.86 699.16L400.11 700.92L398.35 699.16Z" fill="#aaa"/>
<path d="M422.79 707.42L426.69 711.32L422.79 715.22L418.89 711.32Z" fill="#e6e6e6" stroke="#1a1a1a" stroke-width="1.2"/><path d="M422.79 709.56L424.55 711.32L422.79 713.07L421.04 711.32Z" fill="#aaa"/>
<path d="M445.48 709.26L449.38 713.16L445.48 717.06L441.58 713.16Z" fill="#e6e6e6" stroke="#1a1a1a" stroke-width="1.2"/><path d="M445.48 711.41L447.24 713.16L445.48 714.92L443.73 713.16Z" fill="#aaa"/>
<path d="M468.17 710.12L472.07 714.02L468.17 717.92L464.27 714.02Z" fill="#e6e6e6" stroke="#1a1a1a" stroke-width="1.2"/><path d="M468.17 712.27L469.92 714.02L468.17 715.78L466.41 714.02Z" fill="#aaa"/>
<path d="M490.86 713.44L494.76 717.34L490.86 721.24L486.96 717.34Z" fill="#e6e6e6" stroke="#1a1a1a" stroke-width="1.2"/><path d="M490.86 715.58L492.61 717.34L490.86 719.09L489.1 717.34Z" fill="#aaa"/>
<path d="M332.04 714.02L354.73 709.23L377.42 702.48L400.11 694.74L422.79 701.25L445.48 706.9L468.17 705.43L490.86 705.06" fill="none" stroke="#000" stroke-width="2" stroke-linejoin="round"/>
<circle cx="332.04" cy="714.02" r="3.5" fill="#000"/>
<circle cx="354.73" cy="709.23" r="3.5" fill="#000"/>
<circle cx="377.42" cy="702.48" r="3.5" fill="#000"/>
<circle cx="400.11" cy="694.74" r="3.5" fill="#000"/>
<circle cx="422.79" cy="701.25" r="3.5" fill="#000"/>
<circle cx="445.48" cy="706.9" r="3.5" fill="#000"/>
<circle cx="468.17" cy="705.43" r="3.5" fill="#000"/>
<circle cx="490.86" cy="705.06" r="3.5" fill="#000"/>
<path d="M332.04 702.48L354.73 701.86L377.42 713.04L400.11 709.97L422.79 711.57L445.48 719.79L468.17 717.95L490.86 717.34" fill="none" stroke="#000" stroke-width="2" stroke-linejoin="round"/>
<rect x="327.54" y="697.98" width="9" height="9" fill="#fff"/><path d="M328.04 699.38V705.58M336.04 699.38V705.58" stroke="#c8c8c8" stroke-width="1" fill="none"/><path d="M332.04 698.38V706.58" stroke="#444" stroke-width="1.2" fill="none"/><path d="M327.94 698.38L336.14 706.58M336.14 698.38L327.94 706.58" stroke="#111" stroke-width="1.25" fill="none"/>
<rect x="350.23" y="697.36" width="9" height="9" fill="#fff"/><path d="M350.73 698.76V704.96M358.73 698.76V704.96" stroke="#c8c8c8" stroke-width="1" fill="none"/><path d="M354.73 697.76V705.96" stroke="#444" stroke-width="1.2" fill="none"/><path d="M350.63 697.76L358.83 705.96M358.83 697.76L350.63 705.96" stroke="#111" stroke-width="1.25" fill="none"/>
<rect x="372.92" y="708.54" width="9" height="9" fill="#fff"/><path d="M373.42 709.94V716.14M381.42 709.94V716.14" stroke="#c8c8c8" stroke-width="1" fill="none"/><path d="M377.42 708.94V717.14" stroke="#444" stroke-width="1.2" fill="none"/><path d="M373.32 708.94L381.52 717.14M381.52 708.94L373.32 717.14" stroke="#111" stroke-width="1.25" fill="none"/>
<rect x="395.61" y="705.47" width="9" height="9" fill="#fff"/><path d="M396.11 706.87V713.07M404.11 706.87V713.07" stroke="#c8c8c8" stroke-width="1" fill="none"/><path d="M400.11 705.87V714.07" stroke="#444" stroke-width="1.2" fill="none"/><path d="M396.01 705.87L404.21 714.07M404.21 705.87L396.01 714.07" stroke="#111" stroke-width="1.25" fill="none"/>
<rect x="418.29" y="707.07" width="9" height="9" fill="#fff"/><path d="M418.79 708.47V714.67M426.79 708.47V714.67" stroke="#c8c8c8" stroke-width="1" fill="none"/><path d="M422.79 707.47V715.67" stroke="#444" stroke-width="1.2" fill="none"/><path d="M418.69 707.47L426.89 715.67M426.89 707.47L418.69 715.67" stroke="#111" stroke-width="1.25" fill="none"/>
<rect x="440.98" y="715.29" width="9" height="9" fill="#fff"/><path d="M441.48 716.69V722.89M449.48 716.69V722.89" stroke="#c8c8c8" stroke-width="1" fill="none"/><path d="M445.48 715.69V723.89" stroke="#444" stroke-width="1.2" fill="none"/><path d="M441.38 715.69L449.58 723.89M449.58 715.69L441.38 723.89" stroke="#111" stroke-width="1.25" fill="none"/>
<rect x="463.67" y="713.45" width="9" height="9" fill="#fff"/><path d="M464.17 714.85V721.05M472.17 714.85V721.05" stroke="#c8c8c8" stroke-width="1" fill="none"/><path d="M468.17 713.85V722.05" stroke="#444" stroke-width="1.2" fill="none"/><path d="M464.07 713.85L472.27 722.05M472.27 713.85L464.07 722.05" stroke="#111" stroke-width="1.25" fill="none"/>
<rect x="486.36" y="712.84" width="9" height="9" fill="#fff"/><path d="M486.86 714.24V720.44M494.86 714.24V720.44" stroke="#c8c8c8" stroke-width="1" fill="none"/><path d="M490.86 713.24V721.44" stroke="#444" stroke-width="1.2" fill="none"/><path d="M486.76 713.24L494.96 721.44M494.96 713.24L486.76 721.44" stroke="#111" stroke-width="1.25" fill="none"/>
<path d="M379 783.9H392.5" stroke="#000" stroke-width="1.3"/>
<circle cx="379" cy="783.9" r="3.3"/><circle cx="392.5" cy="783.9" r="3.3"/>
<path d="M386.2 789.9H408.1" stroke="#000" stroke-width="1.3"/>
<circle cx="386.2" cy="789.9" r="3.3"/><circle cx="408.1" cy="789.9" r="3.3"/>
<text x="341.5" y="799" font-size="12.6" font-weight="bold" font-family='"Liberation Sans", sans-serif'>PMPA</text>
<text x="381" y="806.5" font-size="12.4" font-weight="bold" font-family='"Liberation Sans", sans-serif'>transfusions</text>
</svg>
</body></html>
